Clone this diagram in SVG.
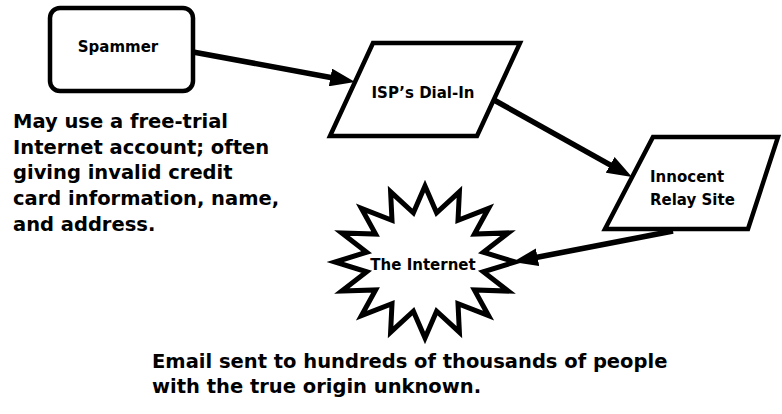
<svg xmlns="http://www.w3.org/2000/svg" width="782" height="414" viewBox="0 0 782 414">
  <defs>
    <style>
      .shape { fill: #ffffff; stroke: #000000; stroke-width: 4.5; stroke-linejoin: miter; }
      .star { fill: #ffffff; stroke: #000000; stroke-width: 5; stroke-linejoin: miter; stroke-miterlimit: 10; }
      .label { font-family: "DejaVu Sans", "Liberation Sans", sans-serif; font-weight: bold; font-size: 15px; fill: #000000; }
      .note { font-family: "DejaVu Sans", "Liberation Sans", sans-serif; font-weight: bold; font-size: 19.5px; fill: #000000; }
      .conn { stroke: #000000; stroke-width: 5.5; fill: none; }
    </style>
    <marker id="arrow" viewBox="0 0 25 18" refX="3" refY="9" markerWidth="25" markerHeight="18" orient="auto" markerUnits="userSpaceOnUse">
      <path d="M0,0 L25,9 L0,18 z" fill="#000000"/>
    </marker>
  </defs>
  <rect width="782" height="414" fill="#ffffff"/>

  <g id="spammer">
    <rect class="shape" x="50" y="8" width="143" height="83" rx="10" ry="10"/>
    <text class="label" x="118" y="52" text-anchor="middle">Spammer</text>
  </g>

  <g id="isp">
    <polygon class="shape" points="373,43 520,43 477,136 330,136"/>
    <text class="label" x="423" y="98" text-anchor="middle">ISP’s Dial-In</text>
  </g>

  <g id="relay">
    <polygon class="shape" points="653,137 778,137 748,229 605,229"/>
    <text class="label" x="650" y="182">Innocent</text>
    <text class="label" x="650" y="205">Relay Site</text>
  </g>

  <g id="internet">
    <polygon class="star" points="515,262 483.3,252.2 508.2,232.9 474.4,234.1 488.6,208.3 458.0,220.3 459.4,191.8 436.6,212.8 425,186 413.4,212.8 390.6,191.8 392.0,220.3 361.4,208.3 375.6,234.1 341.8,232.9 366.7,252.2 335,262 366.7,271.8 341.8,291.1 375.6,289.9 361.4,315.7 392.0,303.7 390.6,332.2 413.4,311.2 425,338 436.6,311.2 459.4,332.2 458.0,303.7 488.6,315.7 474.4,289.9 508.2,291.1 483.3,271.8"/>
    <text class="label" x="423" y="270" text-anchor="middle">The Internet</text>
  </g>

  <g id="connectors">
    <line class="conn" x1="193" y1="52" x2="333.4" y2="78.0" marker-end="url(#arrow)"/>
    <line class="conn" x1="494" y1="100" x2="612.8" y2="166.3" marker-end="url(#arrow)"/>
    <line class="conn" x1="673" y1="231" x2="534.6" y2="257.8" marker-end="url(#arrow)"/>
  </g>

  <g id="note-left">
    <text class="note" x="13" y="128">May use a free-trial</text>
    <text class="note" x="13" y="154">Internet account; often</text>
    <text class="note" x="13" y="179">giving invalid credit</text>
    <text class="note" x="13" y="205">card information, name,</text>
    <text class="note" x="13" y="231">and address.</text>
  </g>

  <g id="note-bottom">
    <text class="note" x="152" y="368">Email sent to hundreds of thousands of people</text>
    <text class="note" x="152" y="393">with the true origin unknown.</text>
  </g>
</svg>
